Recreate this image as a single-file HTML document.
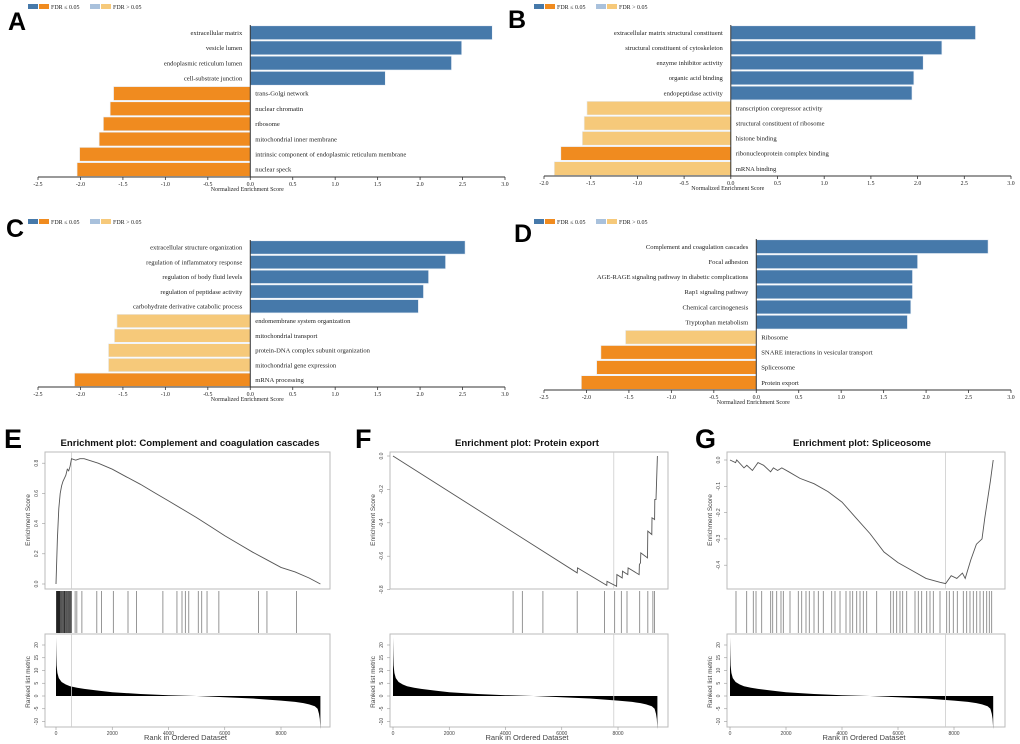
<!DOCTYPE html>
<html><head><meta charset="utf-8">
<style>
html,body{margin:0;padding:0;background:#fff;}
svg{display:block;}
.t{font-family:"Liberation Serif",serif;fill:#222;}
.s{font-family:"Liberation Sans",sans-serif;}
</style></head>
<body>
<svg id="fig" width="1020" height="744" viewBox="0 0 1020 744" xmlns="http://www.w3.org/2000/svg"></svg>
<script>
// ---------- Bar chart data ----------
const aLabels = ["extracellular matrix","vesicle lumen","endoplasmic reticulum lumen","cell-substrate junction","trans-Golgi network","nuclear chromatin","ribosome","mitochondrial inner membrane","intrinsic component of endoplasmic reticulum membrane","nuclear speck"];
const aValues = [2.85,2.49,2.37,1.59,-1.61,-1.65,-1.73,-1.78,-2.01,-2.04];
const aSig = [1,1,1,1,1,1,1,1,1,1];
const bLabels = ["extracellular matrix structural constituent","structural constituent of cytoskeleton","enzyme inhibitor activity","organic acid binding","endopeptidase activity","transcription corepressor activity","structural constituent of ribosome","histone binding","ribonucleoprotein complex binding","mRNA binding"];
const bValues = [2.62,2.26,2.06,1.96,1.94,-1.54,-1.57,-1.59,-1.82,-1.89];
const bSig = [1,1,1,1,1,0,0,0,1,0];
const cLabels = ["extracellular structure organization","regulation of inflammatory response","regulation of body fluid levels","regulation of peptidase activity","carbohydrate derivative catabolic process","endomembrane system organization","mitochondrial transport","protein-DNA complex subunit organization","mitochondrial gene expression","mRNA processing"];
const cValues = [2.53,2.30,2.10,2.04,1.98,-1.57,-1.60,-1.67,-1.67,-2.07];
const cSig = [1,1,1,1,1,0,0,0,0,1];
const dLabels = ["Complement and coagulation cascades","Focal adhesion","AGE-RAGE signaling pathway in diabetic complications","Rap1 signaling pathway","Chemical carcinogenesis","Tryptophan metabolism","Ribosome","SNARE interactions in vesicular transport","Spliceosome","Protein export"];
const dValues = [2.73,1.90,1.84,1.84,1.82,1.78,-1.54,-1.83,-1.88,-2.06];
const dSig = [1,1,1,1,1,1,0,1,1,1];
const ticksAC = [-2.5,-2.0,-1.5,-1.0,-0.5,0.0,0.5,1.0,1.5,2.0,2.5,3.0];
const ticksB = [-2.0,-1.5,-1.0,-0.5,0.0,0.5,1.0,1.5,2.0,2.5,3.0];

// ---------- Enrichment plot data ----------
const eRanks = [0,50,100,150,200,250,300,350,400,450,500,550,700,850,1000,1500,2000,2500,3000,3500,4000,4500,5000,5500,6000,6500,7000,7500,8000,8500,9000,9400];
const eES = [0,0.30,0.50,0.60,0.65,0.68,0.70,0.72,0.76,0.75,0.78,0.83,0.82,0.83,0.83,0.80,0.76,0.71,0.66,0.605,0.55,0.495,0.44,0.38,0.32,0.265,0.21,0.16,0.11,0.08,0.04,0.0];
const eHits = [20,40,60,80,100,120,140,180,220,260,300,330,380,420,460,500,540,680,740,920,1450,1620,2040,2560,2860,3800,4300,4480,4600,4720,5060,5180,5370,5790,7200,7500,8550];
const fRanks = [0,6550,6560,7600,7610,7950,7960,8150,8160,8350,8360,8750,8760,8800,8810,9050,9060,9200,9210,9300,9310,9350,9400];
const fES = [0,-0.70,-0.67,-0.775,-0.75,-0.78,-0.71,-0.73,-0.69,-0.71,-0.67,-0.71,-0.65,-0.64,-0.58,-0.61,-0.45,-0.47,-0.37,-0.38,-0.26,-0.26,0.0];
const fHits = [4270,4600,5330,6550,7520,7880,8120,8320,8770,9060,9240,9300];
const gRanks = [0,200,240,500,600,800,1000,1200,1450,1550,1700,1850,2100,2500,3000,3500,4000,4500,5000,5500,6000,6500,7000,7500,7700,7900,8100,8300,8400,8600,8800,9000,9100,9200,9300,9400];
const gES = [0,-0.01,0.0,-0.03,-0.02,-0.04,-0.01,-0.02,-0.045,-0.03,-0.04,-0.03,-0.045,-0.07,-0.09,-0.12,-0.16,-0.22,-0.28,-0.35,-0.39,-0.42,-0.45,-0.465,-0.47,-0.44,-0.45,-0.43,-0.45,-0.38,-0.32,-0.30,-0.22,-0.15,-0.08,0.0];
const gHits = [214,595,833,929,1131,1452,1524,1667,1821,1905,2143,2440,2560,2714,2833,3000,3155,3333,3631,3750,3929,4143,4286,4381,4524,4643,4762,4881,5238,5738,5833,5952,6071,6167,6310,6607,6726,6845,7024,7143,7262,7500,7738,7833,7976,8119,8333,8452,8571,8690,8810,8929,9048,9167,9262,9345];
const metricRanks = [0,10,20,50,100,200,350,500,750,1000,1500,2000,3000,4000,5000,6000,7000,8000,8500,8800,9000,9200,9300,9350,9380,9400];
const metricValues = [23,16,12,9,7,5.5,4.5,3.8,3.2,2.8,2.1,1.5,0.8,0.3,0,-0.5,-1.0,-1.8,-2.3,-2.8,-3.3,-4,-5,-7,-9,-13];
const rankTicks = [0,2000,4000,6000,8000];
const metricTicks = [-10,-5,0,5,10,15,20];

const NS="http://www.w3.org/2000/svg";
const svg=document.getElementById('fig');
function mk(tag,attrs,parent,text){const e=document.createElementNS(NS,tag);for(const k in attrs)e.setAttribute(k,attrs[k]);if(text!==undefined)e.textContent=text;(parent||svg).appendChild(e);return e;}

const COL={blue:"#4679aa",orange:"#f08b1f",lblue:"#a9c1dc",lorange:"#f6c97a"};

function panelLetter(ch,x,y,fs){
  const t=mk('text',{x:x,y:y,'font-size':fs,'font-weight':'bold','class':'s',fill:'#000'},svg,ch);
  
  
}

function legend(x,y,id){
  const g=mk('g',{});
  
  
  mk('rect',{x:x,y:y,width:10,height:5,fill:COL.blue},g);
  mk('rect',{x:x+11,y:y,width:10,height:5,fill:COL.orange},g);
  mk('text',{x:x+23,y:y+5,'font-size':6,'class':'t'},g,"FDR \u2264 0.05");
  mk('rect',{x:x+62,y:y,width:10,height:5,fill:COL.lblue},g);
  mk('rect',{x:x+73,y:y,width:10,height:5,fill:COL.lorange},g);
  mk('text',{x:x+85,y:y+5,'font-size':6,'class':'t'},g,"FDR > 0.05");
}

function barChart(id,labels,values,sig,ticks,xMinPx,xMaxPx,topY,axisY){
  const dmin=ticks[0],dmax=ticks[ticks.length-1];
  const sx=v=>xMinPx+(v-dmin)/(dmax-dmin)*(xMaxPx-xMinPx);
  const g=mk('g',{});
  
  
  const n=values.length, pitch=(axisY-topY)/n, z=sx(0);
  values.forEach((v,i)=>{
    const y=topY+i*pitch+0.8;
    const x1=Math.min(sx(v),z), w=Math.abs(sx(v)-z);
    const c=v>=0?(sig[i]?COL.blue:COL.lblue):(sig[i]?COL.orange:COL.lorange);
    const r=mk('rect',{x:x1,y:y,width:w,height:pitch-1.4,fill:c,stroke:'#e8eef6','stroke-width':0.6},g);
    
    
    const ty=topY+i*pitch+pitch/2+2.3;
    const t=v>=0?mk('text',{x:z-8,y:ty,'font-size':6.6,'text-anchor':'end','class':'t'},g,labels[i])
                :mk('text',{x:z+5,y:ty,'font-size':6.6,'class':'t'},g,labels[i]);
    
    
  });
  mk('line',{x1:z,y1:topY,x2:z,y2:axisY,stroke:'#333','stroke-width':1},g);
  mk('line',{x1:xMinPx,y1:axisY,x2:xMaxPx,y2:axisY,stroke:'#333','stroke-width':1},g);
  ticks.forEach(tk=>{
    const x=sx(tk);
    mk('line',{x1:x,y1:axisY,x2:x,y2:axisY+3,stroke:'#333','stroke-width':0.8},g);
    const t=mk('text',{x:x,y:axisY+9,'font-size':5.8,'text-anchor':'middle','class':'t'},g,tk.toFixed(1));
    
    
  });
  const tt=mk('text',{x:z-3,y:axisY+14,'font-size':6,'text-anchor':'middle','class':'t'},g,"Normalized Enrichment Score");
  
  
}

panelLetter('A',8,30,25); legend(28,4,'a');
barChart('a',aLabels,aValues,aSig,ticksAC,38,505,25,177);
panelLetter('B',508,28,25); legend(534,4,'b');
barChart('b',bLabels,bValues,bSig,ticksB,544,1011,25,176);
panelLetter('C',6,237,25); legend(28,219,'c');
barChart('c',cLabels,cValues,cSig,ticksAC,38,505,240,387);
panelLetter('D',514,242,25); legend(534,219,'d');
barChart('d',dLabels,dValues,dSig,ticksAC,544,1011,239,390);

function gsea(id,title,ox,boxL,boxR,r0,r8000,esRanks,esVals,esTicks,esZeroY,esScale,hits,peakRank,titleX){
  const sx=r=>r0+r/8000*(r8000-r0);
  const g=mk('g',{});
  
  
  const tt=mk('text',{x:titleX,y:446,'font-size':9.6,'font-weight':'bold','text-anchor':'middle','class':'s',fill:'#111'},g,title);
  
  
  mk('rect',{x:boxL,y:452,width:boxR-boxL,height:137,fill:'none',stroke:'#bbb','stroke-width':1},g);
  const sy=v=>esZeroY-v*esScale;
  mk('line',{x1:sx(peakRank),y1:452,x2:sx(peakRank),y2:589,stroke:'#ccc','stroke-width':0.8},g);
  const pts=esRanks.map((r,i)=>sx(r).toFixed(1)+','+sy(esVals[i]).toFixed(1)).join(' ');
  const pl=mk('polyline',{points:pts,fill:'none',stroke:'#555','stroke-width':0.9},g);
  
  
  esTicks.forEach(v=>{
    const y=sy(v);
    mk('line',{x1:boxL-3,y1:y,x2:boxL,y2:y,stroke:'#999','stroke-width':0.6},g);
    mk('text',{x:boxL-7,y:y,'font-size':5,'text-anchor':'middle','class':'s',fill:'#444',transform:`rotate(-90 ${boxL-7} ${y})`},g,v.toFixed(1));
  });
  const yl=mk('text',{x:boxL-15,y:520,'font-size':6.5,'text-anchor':'middle','class':'s',fill:'#444',transform:`rotate(-90 ${boxL-15} 520)`},g,"Enrichment Score");
  
  
  hits.forEach((h,i)=>{
    const x=sx(h);
    const l=mk('line',{x1:x,y1:591,x2:x,y2:633,stroke:(h<600&&id==='e')?'#222':'#8a8a8a','stroke-width':0.9},g);
    
    
  });
  mk('rect',{x:boxL,y:634,width:boxR-boxL,height:93,fill:'none',stroke:'#bbb','stroke-width':1},g);
  const my=v=>696-v*2.55;
  let d='M'+sx(0)+','+my(0);
  metricRanks.forEach((r,i)=>{d+=' L'+sx(r).toFixed(1)+','+my(metricValues[i]).toFixed(1);});
  d+=' L'+sx(9400).toFixed(1)+','+my(0)+' Z';
  const ar=mk('path',{d:d,fill:'#000'},g);
  
  
  mk('line',{x1:sx(peakRank),y1:634,x2:sx(peakRank),y2:727,stroke:'#ccc','stroke-width':0.8},g);
  metricTicks.forEach(v=>{
    const y=my(v);
    mk('line',{x1:boxL-3,y1:y,x2:boxL,y2:y,stroke:'#999','stroke-width':0.6},g);
    mk('text',{x:boxL-7,y:y,'font-size':5,'text-anchor':'middle','class':'s',fill:'#444',transform:`rotate(-90 ${boxL-7} ${y})`},g,String(v));
  });
  const yl2=mk('text',{x:boxL-15,y:682,'font-size':6.5,'text-anchor':'middle','class':'s',fill:'#444',transform:`rotate(-90 ${boxL-15} 682)`},g,"Ranked list metric");
  
  
  rankTicks.forEach(r=>{
    const x=sx(r);
    mk('line',{x1:x,y1:727,x2:x,y2:730,stroke:'#999','stroke-width':0.6},g);
    mk('text',{x:x,y:735,'font-size':5,'text-anchor':'middle','class':'s',fill:'#444'},g,String(r));
  });
  const xl=mk('text',{x:(boxL+boxR)/2-2,y:740,'font-size':7.5,'text-anchor':'middle','class':'s',fill:'#444'},g,"Rank in Ordered Dataset");
  
  
}

panelLetter('E',4,448,27);
gsea('e',"Enrichment plot: Complement and coagulation cascades",0,45,330,56,281,eRanks,eES,[0,0.2,0.4,0.6,0.8],584,151,eHits,550,190);
panelLetter('F',355,448,27);
gsea('f',"Enrichment plot: Protein export",340,390,668,393,618,fRanks,fES,[0,-0.2,-0.4,-0.6,-0.8],456,167,fHits,7850,527);
panelLetter('G',695,448,27);
gsea('g',"Enrichment plot: Spliceosome",680,727,1005,730,954,gRanks,gES,[0,-0.1,-0.2,-0.3,-0.4],460,263,gHits,7700,862);
</script>
</body></html>
